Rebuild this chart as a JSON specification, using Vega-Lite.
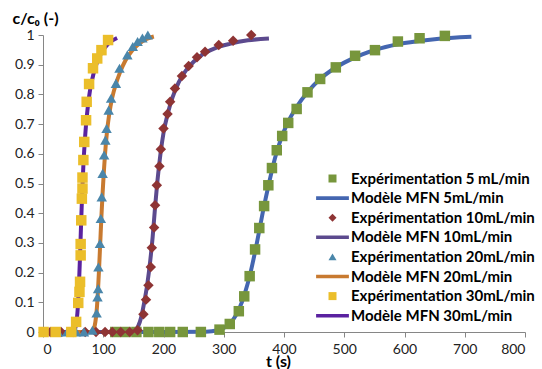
{
  "$schema": "https://vega.github.io/schema/vega-lite/v6.json",
  "width": 482,
  "height": 297,
  "autosize": {"type": "none"},
  "padding": {"left": 43, "top": 35, "right": 17, "bottom": 37},
  "background": "white",
  "config": {
    "view": {"stroke": null},
    "font": "Lato",
    "axis": {
      "grid": false,
      "domainColor": "#868686",
      "tickColor": "#868686",
      "tickSize": 5,
      "labelFont": "Lato",
      "labelFontSize": 14,
      "labelColor": "#222222",
      "titleFont": "Lato",
      "titleFontSize": 16,
      "titleFontWeight": "bold",
      "titleColor": "#000000"
    }
  },
  "data": {
    "values": [
      {"series": "Expérimentation 5 mL/min", "t": 120, "c": 0},
      {"series": "Expérimentation 5 mL/min", "t": 137, "c": 0},
      {"series": "Expérimentation 5 mL/min", "t": 155, "c": 0},
      {"series": "Expérimentation 5 mL/min", "t": 175, "c": 0},
      {"series": "Expérimentation 5 mL/min", "t": 193, "c": 0},
      {"series": "Expérimentation 5 mL/min", "t": 211, "c": 0},
      {"series": "Expérimentation 5 mL/min", "t": 232, "c": 0},
      {"series": "Expérimentation 5 mL/min", "t": 262, "c": 0},
      {"series": "Expérimentation 5 mL/min", "t": 293, "c": 0.008},
      {"series": "Expérimentation 5 mL/min", "t": 310, "c": 0.027},
      {"series": "Expérimentation 5 mL/min", "t": 325, "c": 0.07},
      {"series": "Expérimentation 5 mL/min", "t": 334, "c": 0.12},
      {"series": "Expérimentation 5 mL/min", "t": 343, "c": 0.188},
      {"series": "Expérimentation 5 mL/min", "t": 352, "c": 0.278},
      {"series": "Expérimentation 5 mL/min", "t": 359, "c": 0.35},
      {"series": "Expérimentation 5 mL/min", "t": 367, "c": 0.424},
      {"series": "Expérimentation 5 mL/min", "t": 374, "c": 0.494},
      {"series": "Expérimentation 5 mL/min", "t": 380, "c": 0.552},
      {"series": "Expérimentation 5 mL/min", "t": 388, "c": 0.612},
      {"series": "Expérimentation 5 mL/min", "t": 397, "c": 0.66},
      {"series": "Expérimentation 5 mL/min", "t": 407, "c": 0.704},
      {"series": "Expérimentation 5 mL/min", "t": 421, "c": 0.751},
      {"series": "Expérimentation 5 mL/min", "t": 439, "c": 0.807},
      {"series": "Expérimentation 5 mL/min", "t": 460, "c": 0.852},
      {"series": "Expérimentation 5 mL/min", "t": 486, "c": 0.891},
      {"series": "Expérimentation 5 mL/min", "t": 518, "c": 0.93},
      {"series": "Expérimentation 5 mL/min", "t": 551, "c": 0.949},
      {"series": "Expérimentation 5 mL/min", "t": 589, "c": 0.978},
      {"series": "Expérimentation 5 mL/min", "t": 625, "c": 0.989},
      {"series": "Expérimentation 5 mL/min", "t": 667, "c": 0.997},

      {"series": "Modèle MFN 5mL/min", "t": 0, "c": 0},
      {"series": "Modèle MFN 5mL/min", "t": 100, "c": 0},
      {"series": "Modèle MFN 5mL/min", "t": 200, "c": 0},
      {"series": "Modèle MFN 5mL/min", "t": 270, "c": 0.001},
      {"series": "Modèle MFN 5mL/min", "t": 290, "c": 0.006},
      {"series": "Modèle MFN 5mL/min", "t": 305, "c": 0.02},
      {"series": "Modèle MFN 5mL/min", "t": 315, "c": 0.04},
      {"series": "Modèle MFN 5mL/min", "t": 325, "c": 0.075},
      {"series": "Modèle MFN 5mL/min", "t": 335, "c": 0.13},
      {"series": "Modèle MFN 5mL/min", "t": 345, "c": 0.205},
      {"series": "Modèle MFN 5mL/min", "t": 355, "c": 0.3},
      {"series": "Modèle MFN 5mL/min", "t": 365, "c": 0.405},
      {"series": "Modèle MFN 5mL/min", "t": 375, "c": 0.5},
      {"series": "Modèle MFN 5mL/min", "t": 385, "c": 0.585},
      {"series": "Modèle MFN 5mL/min", "t": 395, "c": 0.65},
      {"series": "Modèle MFN 5mL/min", "t": 405, "c": 0.7},
      {"series": "Modèle MFN 5mL/min", "t": 420, "c": 0.755},
      {"series": "Modèle MFN 5mL/min", "t": 440, "c": 0.81},
      {"series": "Modèle MFN 5mL/min", "t": 460, "c": 0.852},
      {"series": "Modèle MFN 5mL/min", "t": 480, "c": 0.883},
      {"series": "Modèle MFN 5mL/min", "t": 500, "c": 0.907},
      {"series": "Modèle MFN 5mL/min", "t": 530, "c": 0.935},
      {"series": "Modèle MFN 5mL/min", "t": 560, "c": 0.955},
      {"series": "Modèle MFN 5mL/min", "t": 600, "c": 0.973},
      {"series": "Modèle MFN 5mL/min", "t": 650, "c": 0.986},
      {"series": "Modèle MFN 5mL/min", "t": 711, "c": 0.994},

      {"series": "Expérimentation 10mL/min", "t": 12, "c": 0},
      {"series": "Expérimentation 10mL/min", "t": 30, "c": 0},
      {"series": "Expérimentation 10mL/min", "t": 50, "c": 0},
      {"series": "Expérimentation 10mL/min", "t": 70, "c": 0},
      {"series": "Expérimentation 10mL/min", "t": 88, "c": 0},
      {"series": "Expérimentation 10mL/min", "t": 103, "c": 0},
      {"series": "Expérimentation 10mL/min", "t": 115, "c": 0},
      {"series": "Expérimentation 10mL/min", "t": 129, "c": 0},
      {"series": "Expérimentation 10mL/min", "t": 144, "c": 0},
      {"series": "Expérimentation 10mL/min", "t": 157, "c": 0.006},
      {"series": "Expérimentation 10mL/min", "t": 166.7, "c": 0.06},
      {"series": "Expérimentation 10mL/min", "t": 171, "c": 0.109},
      {"series": "Expérimentation 10mL/min", "t": 175, "c": 0.157},
      {"series": "Expérimentation 10mL/min", "t": 178.9, "c": 0.219},
      {"series": "Expérimentation 10mL/min", "t": 180.6, "c": 0.284},
      {"series": "Expérimentation 10mL/min", "t": 184.4, "c": 0.352},
      {"series": "Expérimentation 10mL/min", "t": 186, "c": 0.427},
      {"series": "Expérimentation 10mL/min", "t": 188.9, "c": 0.494},
      {"series": "Expérimentation 10mL/min", "t": 193.3, "c": 0.558},
      {"series": "Expérimentation 10mL/min", "t": 195.6, "c": 0.615},
      {"series": "Expérimentation 10mL/min", "t": 200, "c": 0.685},
      {"series": "Expérimentation 10mL/min", "t": 206.7, "c": 0.734},
      {"series": "Expérimentation 10mL/min", "t": 211, "c": 0.775},
      {"series": "Expérimentation 10mL/min", "t": 219, "c": 0.82},
      {"series": "Expérimentation 10mL/min", "t": 230.6, "c": 0.862},
      {"series": "Expérimentation 10mL/min", "t": 241.7, "c": 0.896},
      {"series": "Expérimentation 10mL/min", "t": 255.6, "c": 0.925},
      {"series": "Expérimentation 10mL/min", "t": 269, "c": 0.944},
      {"series": "Expérimentation 10mL/min", "t": 291.7, "c": 0.966},
      {"series": "Expérimentation 10mL/min", "t": 315.6, "c": 0.981},
      {"series": "Expérimentation 10mL/min", "t": 345.6, "c": 1.0},

      {"series": "Modèle MFN 10mL/min", "t": 0, "c": 0},
      {"series": "Modèle MFN 10mL/min", "t": 140, "c": 0},
      {"series": "Modèle MFN 10mL/min", "t": 152, "c": 0.005},
      {"series": "Modèle MFN 10mL/min", "t": 158, "c": 0.02},
      {"series": "Modèle MFN 10mL/min", "t": 163, "c": 0.05},
      {"series": "Modèle MFN 10mL/min", "t": 168, "c": 0.1},
      {"series": "Modèle MFN 10mL/min", "t": 173, "c": 0.16},
      {"series": "Modèle MFN 10mL/min", "t": 178, "c": 0.24},
      {"series": "Modèle MFN 10mL/min", "t": 182, "c": 0.32},
      {"series": "Modèle MFN 10mL/min", "t": 186, "c": 0.42},
      {"series": "Modèle MFN 10mL/min", "t": 190, "c": 0.51},
      {"series": "Modèle MFN 10mL/min", "t": 195, "c": 0.6},
      {"series": "Modèle MFN 10mL/min", "t": 200, "c": 0.67},
      {"series": "Modèle MFN 10mL/min", "t": 207, "c": 0.735},
      {"series": "Modèle MFN 10mL/min", "t": 215, "c": 0.79},
      {"series": "Modèle MFN 10mL/min", "t": 225, "c": 0.84},
      {"series": "Modèle MFN 10mL/min", "t": 237, "c": 0.88},
      {"series": "Modèle MFN 10mL/min", "t": 250, "c": 0.91},
      {"series": "Modèle MFN 10mL/min", "t": 265, "c": 0.935},
      {"series": "Modèle MFN 10mL/min", "t": 285, "c": 0.955},
      {"series": "Modèle MFN 10mL/min", "t": 310, "c": 0.97},
      {"series": "Modèle MFN 10mL/min", "t": 340, "c": 0.982},
      {"series": "Modèle MFN 10mL/min", "t": 375, "c": 0.988},

      {"series": "Expérimentation 20mL/min", "t": 25, "c": 0},
      {"series": "Expérimentation 20mL/min", "t": 40, "c": 0},
      {"series": "Expérimentation 20mL/min", "t": 55, "c": 0},
      {"series": "Expérimentation 20mL/min", "t": 68, "c": 0},
      {"series": "Expérimentation 20mL/min", "t": 82, "c": 0.006},
      {"series": "Expérimentation 20mL/min", "t": 89, "c": 0.064},
      {"series": "Expérimentation 20mL/min", "t": 90.5, "c": 0.118},
      {"series": "Expérimentation 20mL/min", "t": 91.5, "c": 0.146},
      {"series": "Expérimentation 20mL/min", "t": 92, "c": 0.219},
      {"series": "Expérimentation 20mL/min", "t": 94.5, "c": 0.298},
      {"series": "Expérimentation 20mL/min", "t": 96, "c": 0.382},
      {"series": "Expérimentation 20mL/min", "t": 97.5, "c": 0.455},
      {"series": "Expérimentation 20mL/min", "t": 99, "c": 0.534},
      {"series": "Expérimentation 20mL/min", "t": 101.5, "c": 0.596},
      {"series": "Expérimentation 20mL/min", "t": 103.5, "c": 0.646},
      {"series": "Expérimentation 20mL/min", "t": 105.5, "c": 0.685},
      {"series": "Expérimentation 20mL/min", "t": 109, "c": 0.747},
      {"series": "Expérimentation 20mL/min", "t": 113, "c": 0.787},
      {"series": "Expérimentation 20mL/min", "t": 121, "c": 0.837},
      {"series": "Expérimentation 20mL/min", "t": 127, "c": 0.888},
      {"series": "Expérimentation 20mL/min", "t": 140, "c": 0.933},
      {"series": "Expérimentation 20mL/min", "t": 149, "c": 0.961},
      {"series": "Expérimentation 20mL/min", "t": 157, "c": 0.978},
      {"series": "Expérimentation 20mL/min", "t": 165, "c": 0.99},
      {"series": "Expérimentation 20mL/min", "t": 174, "c": 1.0},

      {"series": "Modèle MFN 20mL/min", "t": 0, "c": 0},
      {"series": "Modèle MFN 20mL/min", "t": 78, "c": 0},
      {"series": "Modèle MFN 20mL/min", "t": 84, "c": 0.01},
      {"series": "Modèle MFN 20mL/min", "t": 87, "c": 0.035},
      {"series": "Modèle MFN 20mL/min", "t": 89, "c": 0.07},
      {"series": "Modèle MFN 20mL/min", "t": 91, "c": 0.13},
      {"series": "Modèle MFN 20mL/min", "t": 93, "c": 0.21},
      {"series": "Modèle MFN 20mL/min", "t": 95, "c": 0.3},
      {"series": "Modèle MFN 20mL/min", "t": 97, "c": 0.39},
      {"series": "Modèle MFN 20mL/min", "t": 99, "c": 0.47},
      {"series": "Modèle MFN 20mL/min", "t": 101, "c": 0.54},
      {"series": "Modèle MFN 20mL/min", "t": 103, "c": 0.6},
      {"series": "Modèle MFN 20mL/min", "t": 106, "c": 0.67},
      {"series": "Modèle MFN 20mL/min", "t": 110, "c": 0.735},
      {"series": "Modèle MFN 20mL/min", "t": 115, "c": 0.79},
      {"series": "Modèle MFN 20mL/min", "t": 121, "c": 0.835},
      {"series": "Modèle MFN 20mL/min", "t": 128, "c": 0.875},
      {"series": "Modèle MFN 20mL/min", "t": 137, "c": 0.915},
      {"series": "Modèle MFN 20mL/min", "t": 148, "c": 0.948},
      {"series": "Modèle MFN 20mL/min", "t": 160, "c": 0.972},
      {"series": "Modèle MFN 20mL/min", "t": 172, "c": 0.987},
      {"series": "Modèle MFN 20mL/min", "t": 184, "c": 0.995},

      {"series": "Expérimentation 30mL/min", "t": 1, "c": 0},
      {"series": "Expérimentation 30mL/min", "t": 21, "c": 0},
      {"series": "Expérimentation 30mL/min", "t": 47, "c": 0},
      {"series": "Expérimentation 30mL/min", "t": 55, "c": 0.034},
      {"series": "Expérimentation 30mL/min", "t": 58.5, "c": 0.098},
      {"series": "Expérimentation 30mL/min", "t": 60.5, "c": 0.135},
      {"series": "Expérimentation 30mL/min", "t": 61.5, "c": 0.169},
      {"series": "Expérimentation 30mL/min", "t": 62.5, "c": 0.258},
      {"series": "Expérimentation 30mL/min", "t": 62.5, "c": 0.296},
      {"series": "Expérimentation 30mL/min", "t": 63.5, "c": 0.376},
      {"series": "Expérimentation 30mL/min", "t": 64.5, "c": 0.449},
      {"series": "Expérimentation 30mL/min", "t": 65.5, "c": 0.483},
      {"series": "Expérimentation 30mL/min", "t": 65.5, "c": 0.52},
      {"series": "Expérimentation 30mL/min", "t": 67, "c": 0.579},
      {"series": "Expérimentation 30mL/min", "t": 68.5, "c": 0.64},
      {"series": "Expérimentation 30mL/min", "t": 71.5, "c": 0.713},
      {"series": "Expérimentation 30mL/min", "t": 72.5, "c": 0.775},
      {"series": "Expérimentation 30mL/min", "t": 76.5, "c": 0.835},
      {"series": "Expérimentation 30mL/min", "t": 83, "c": 0.888},
      {"series": "Expérimentation 30mL/min", "t": 90, "c": 0.921},
      {"series": "Expérimentation 30mL/min", "t": 97, "c": 0.949},
      {"series": "Expérimentation 30mL/min", "t": 108, "c": 0.983},

      {"series": "Modèle MFN 30mL/min", "t": 0, "c": 0},
      {"series": "Modèle MFN 30mL/min", "t": 48, "c": 0},
      {"series": "Modèle MFN 30mL/min", "t": 53, "c": 0.01},
      {"series": "Modèle MFN 30mL/min", "t": 56, "c": 0.04},
      {"series": "Modèle MFN 30mL/min", "t": 58, "c": 0.09},
      {"series": "Modèle MFN 30mL/min", "t": 59.5, "c": 0.15},
      {"series": "Modèle MFN 30mL/min", "t": 61, "c": 0.23},
      {"series": "Modèle MFN 30mL/min", "t": 62.5, "c": 0.32},
      {"series": "Modèle MFN 30mL/min", "t": 64, "c": 0.41},
      {"series": "Modèle MFN 30mL/min", "t": 65.5, "c": 0.49},
      {"series": "Modèle MFN 30mL/min", "t": 67, "c": 0.56},
      {"series": "Modèle MFN 30mL/min", "t": 69, "c": 0.63},
      {"series": "Modèle MFN 30mL/min", "t": 71.5, "c": 0.7},
      {"series": "Modèle MFN 30mL/min", "t": 74.5, "c": 0.76},
      {"series": "Modèle MFN 30mL/min", "t": 78.5, "c": 0.82},
      {"series": "Modèle MFN 30mL/min", "t": 84, "c": 0.87},
      {"series": "Modèle MFN 30mL/min", "t": 90, "c": 0.91},
      {"series": "Modèle MFN 30mL/min", "t": 97, "c": 0.94},
      {"series": "Modèle MFN 30mL/min", "t": 105, "c": 0.963},
      {"series": "Modèle MFN 30mL/min", "t": 114, "c": 0.98},
      {"series": "Modèle MFN 30mL/min", "t": 123, "c": 0.99}
    ]
  },
  "encoding": {
    "x": {
      "field": "t", "type": "quantitative",
      "scale": {"domain": [0, 800], "nice": false, "zero": false},
      "axis": {
        "title": "t (s)",
        "values": [0, 100, 200, 300, 400, 500, 600, 700, 800],
        "labelPadding": 5,
        "titleX": 235,
        "titleAlign": "center",
        "titleY": 34,
        "titleBaseline": "alphabetic"
      }
    },
    "y": {
      "field": "c", "type": "quantitative",
      "scale": {"domain": [0, 1], "nice": false},
      "axis": {
        "title": "c/c₀ (-)",
        "values": [0, 0.1, 0.2, 0.3, 0.4, 0.5, 0.6, 0.7, 0.8, 0.9, 1],
        "format": "~g",
        "labelPadding": 4,
        "titleAngle": 0,
        "titleAlign": "left",
        "titleBaseline": "alphabetic",
        "titleX": -31,
        "titleY": -12
      }
    },
    "color": {
      "field": "series", "type": "nominal",
      "scale": {
        "domain": ["Expérimentation 5 mL/min", "Modèle MFN 5mL/min", "Expérimentation 10mL/min", "Modèle MFN 10mL/min", "Expérimentation 20mL/min", "Modèle MFN 20mL/min", "Expérimentation 30mL/min", "Modèle MFN 30mL/min"],
        "range": ["#77963C", "#4466B0", "#8E3434", "#5C4A8E", "#4A86AA", "#C87A30", "#EBBE2A", "#5A22A0"]
      },
      "legend": {
        "orient": "none",
        "legendX": 282,
        "legendY": 136,
        "title": null,
        "labelFont": "Lato",
        "labelFontSize": 15,
        "labelFontWeight": "bold",
        "labelColor": "#000000",
        "labelLimit": 300,
        "labelOffset": 11,
        "symbolSize": 64,
        "symbolStrokeWidth": 0,
        "symbolOpacity": 1,
        "rowPadding": 3.6
      }
    }
  },
  "layer": [
    {
      "transform": [{"filter": "indexof(datum.series, 'Mod') == 0"}],
      "mark": {"type": "line", "strokeWidth": 4, "interpolate": "monotone"}
    },
    {
      "transform": [{"filter": "indexof(datum.series, 'Exp') == 0"}],
      "mark": {"type": "point", "filled": true, "size": 110, "opacity": 1},
      "encoding": {
        "shape": {
          "field": "series", "type": "nominal",
          "scale": {
            "domain": ["Expérimentation 5 mL/min", "Modèle MFN 5mL/min", "Expérimentation 10mL/min", "Modèle MFN 10mL/min", "Expérimentation 20mL/min", "Modèle MFN 20mL/min", "Expérimentation 30mL/min", "Modèle MFN 30mL/min"],
            "range": ["square", "M-4.1,-0.45H4.1V0.45H-4.1Z", "diamond", "M-4.1,-0.45H4.1V0.45H-4.1Z", "triangle-up", "M-4.1,-0.45H4.1V0.45H-4.1Z", "square", "M-4.1,-0.45H4.1V0.45H-4.1Z"]
          },
          "legend": {
            "orient": "none",
            "legendX": 282,
            "legendY": 136,
            "title": null
          }
        }
      }
    }
  ]
}
